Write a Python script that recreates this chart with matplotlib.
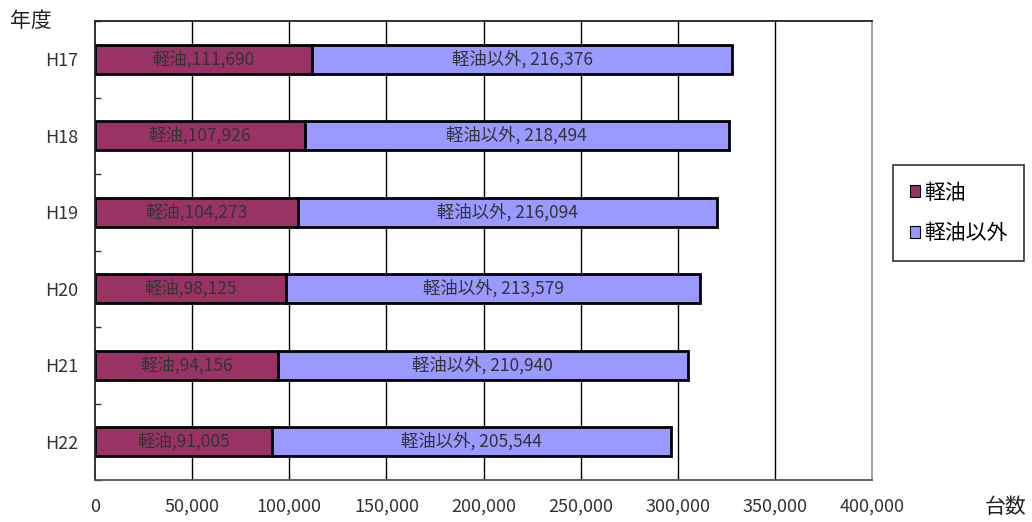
import numpy as np
from matplotlib import pyplot as plt

plt.rcParams['font.family'] = ['Noto Sans CJK JP', 'DejaVu Sans']

years = ['H17', 'H18', 'H19', 'H20', 'H21', 'H22']
diesel = [111690, 107926, 104273, 98125, 94156, 91005]
other = [216376, 218494, 216094, 213579, 210940, 205544]
xticks = [0, 50000, 100000, 150000, 200000, 250000, 300000, 350000, 400000]

fig = plt.figure(figsize=(10.32, 5.22), dpi=100)
ax = fig.add_axes([95 / 1032, 42 / 522, 777 / 1032, 459 / 522])

y = np.arange(len(years))
bar_h = 0.38
b1 = ax.barh(y, diesel, height=bar_h, color='#993366', edgecolor='black', lw=2, label='軽油')
b2 = ax.barh(y, other, left=diesel, height=bar_h, color='#9999FF', edgecolor='black', lw=2, label='軽油以外')

# labels inside the bars
for i in range(len(years)):
    ax.text(diesel[i] / 2, y[i], f'軽油,{diesel[i]:,}', ha='center', va='center', fontsize=12.5, color='#333333')
    ax.text(diesel[i] + other[i] / 2, y[i], f'軽油以外, {other[i]:,}', ha='center', va='center', fontsize=12.5, color='#333333')

ax.set_xlim(0, 400000)
ax.set_ylim(len(years) - 0.5, -0.5)
ax.set_xticks(xticks)
ax.set_xticklabels([f'{v:,}' for v in xticks], fontsize=13, color='#333333')
ax.tick_params(axis='x', length=0, pad=13)
ax.set_yticks(y)
ax.set_yticklabels(years, fontsize=13, color='#333333')
ax.tick_params(axis='y', length=0, pad=12)
ax.set_yticks(np.arange(len(years) + 1) - 0.5, minor=True)
ax.tick_params(axis='y', which='minor', direction='in', length=4, width=1, color='#333333')
for v in xticks[1:-1]:
    ax.axvline(v, color='black', lw=1, zorder=0)

ax.spines['left'].set_color('#222222')
ax.spines['top'].set_color('#222222')
ax.spines['right'].set_color('#999999')
ax.spines['bottom'].set_color('#555555')
for s in ax.spines.values():
    s.set_linewidth(1.3)

fig.text(10 / 1032, 1 - 21 / 522, '年度', fontsize=15, va='center', ha='left', color='#222222')
fig.text(1006 / 1032, 1 - 507 / 522, '台数', fontsize=15, va='center', ha='center', color='#222222')

leg = fig.legend(handles=[b1, b2], loc='upper left', bbox_to_anchor=(893 / 1032, 1 - 165 / 522),
                 fontsize=15, frameon=True, fancybox=False, edgecolor='black',
                 handlelength=0.5, handleheight=0.5, handletextpad=0.2, borderpad=0.8,
                 borderaxespad=0, labelspacing=0.9)
leg.get_frame().set_linewidth(1.2)
for h in leg.legend_handles:
    h.set_linewidth(0.8)

fig.savefig('out.png', dpi=100)
